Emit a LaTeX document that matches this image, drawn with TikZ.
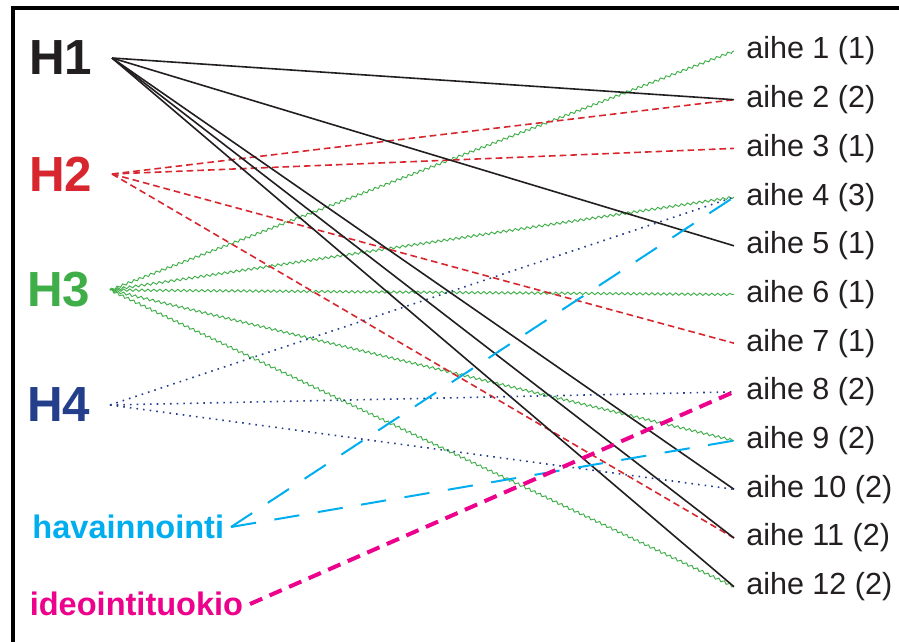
\documentclass[tikz,border=0pt]{standalone}
\usepackage{fontspec}
\setmainfont{Liberation Sans}
\usetikzlibrary{decorations.pathmorphing}

\definecolor{hblack}{HTML}{231F20}
\definecolor{hred}{HTML}{D7262E}
\definecolor{hgreen}{HTML}{3FAE49}
\definecolor{hblue}{HTML}{233E8B}
\definecolor{hcyan}{HTML}{00AEEF}
\definecolor{hmagenta}{HTML}{EC008C}

\begin{document}
\begin{tikzpicture}[x=0.75pt, y=-0.75pt,
    hyp/.style={anchor=east, inner xsep=14.5pt, inner ysep=0pt, font=\fontsize{37}{40}\selectfont\bfseries},
    src/.style={anchor=east, inner xsep=5pt, inner ysep=0pt, font=\fontsize{24.4}{28}\selectfont\bfseries},
    topic/.style={anchor=west, inner xsep=9pt, inner ysep=0pt, text=hblack, font=\fontsize{22.9}{26}\selectfont},
    blackline/.style={hblack, line width=1.2pt},
    redline/.style={hred, line width=1.2pt, dash pattern=on 5pt off 3pt},
    greenline/.style={hgreen, line width=0.7pt, decorate, decoration={snake, amplitude=0.9pt, segment length=4.5pt}},
    blueline/.style={hblue, line width=1.2pt, dash pattern=on 1.2pt off 3.8pt},
    cyanline/.style={hcyan, line width=1.5pt, dash pattern=on 19pt off 14pt},
    magentaline/.style={hmagenta, line width=3pt, dash pattern=on 10pt off 6pt}]
\useasboundingbox (0,0) rectangle (899,642);

% frame
\draw[line width=3pt] (13,642) -- (13,8.5) -- (899,8.5);

% left side
\node[hyp, text=hblack] (H1) at (112,58) {H1};
\node[hyp, text=hred] (H2) at (112,174) {H2};
\node[hyp, text=hgreen] (H3) at (110,290) {H3};
\node[hyp, text=hblue] (H4) at (110,405) {H4};
\node[src, text=hcyan] (hav) at (231,527) {havainnointi};
\node[src, text=hmagenta] (ideo) at (250,604) {ideointituokio};

% right side
\node[topic] (a1) at (734,51) {aihe 1 (1)};
\node[topic] (a2) at (734,99.7) {aihe 2 (2)};
\node[topic] (a3) at (734,148.4) {aihe 3 (1)};
\node[topic] (a4) at (734,197.1) {aihe 4 (3)};
\node[topic] (a5) at (734,245.8) {aihe 5 (1)};
\node[topic] (a6) at (734,294.5) {aihe 6 (1)};
\node[topic] (a7) at (734,343.2) {aihe 7 (1)};
\node[topic] (a8) at (734,391.9) {aihe 8 (2)};
\node[topic] (a9) at (734,440.6) {aihe 9 (2)};
\node[topic] (a10) at (734,489.3) {aihe 10 (2)};
\node[topic] (a11) at (734,538) {aihe 11 (2)};
\node[topic] (a12) at (734,586.7) {aihe 12 (2)};

% H3
\draw[greenline] (H3.east) -- (a1.west);
\draw[greenline] (H3.east) -- (a4.west);
\draw[greenline] (H3.east) -- (a6.west);
\draw[greenline] (H3.east) -- (a9.west);
\draw[greenline] (H3.east) -- (a12.west);

% H2
\draw[redline] (H2.east) -- (a2.west);
\draw[redline] (H2.east) -- (a3.west);
\draw[redline] (H2.east) -- (a7.west);
\draw[redline] (H2.east) -- (a11.west);

% H1
\draw[blackline] (H1.east) -- (a2.west);
\draw[blackline] (H1.east) -- (a5.west);
\draw[blackline] (H1.east) -- (a10.west);
\draw[blackline] (H1.east) -- (a11.west);
\draw[blackline] (H1.east) -- (a12.west);

% H4
\draw[blueline] (H4.east) -- (a4.west);
\draw[blueline] (H4.east) -- (a8.west);
\draw[blueline] (H4.east) -- (a10.west);

% havainnointi, ideointituokio
\draw[cyanline] (hav.east) -- (a4.west);
\draw[cyanline] (hav.east) -- (a9.west);
\draw[magentaline] (ideo.east) -- (a8.west);
\end{tikzpicture}
\end{document}
